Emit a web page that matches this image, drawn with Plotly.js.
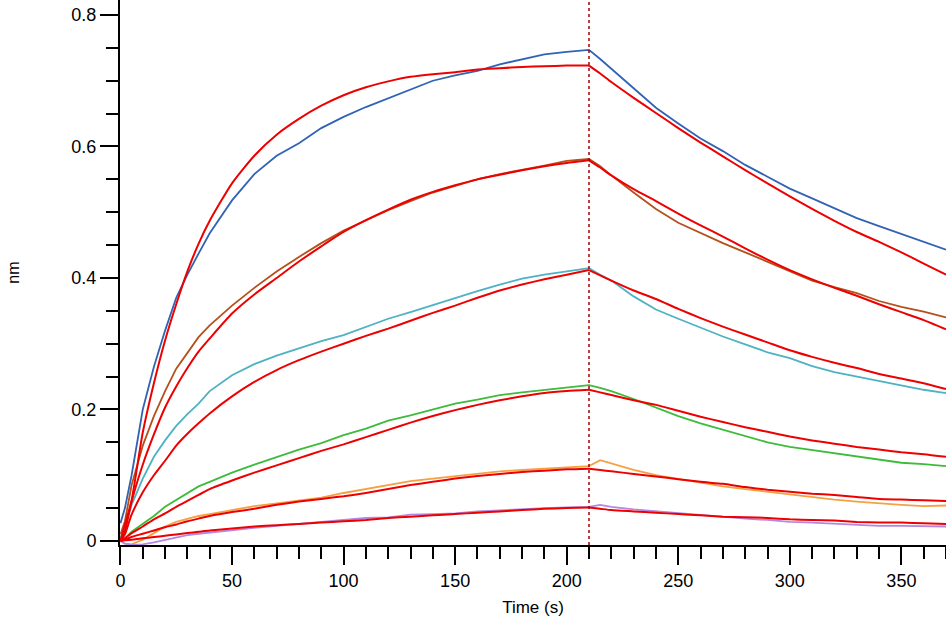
<!DOCTYPE html>
<html>
<head>
<meta charset="utf-8">
<script src="https://cdn.plot.ly/plotly-3.0.1.min.js"></script>
<style>html,body{margin:0;padding:0;background:#fff;}#chart{width:946px;height:620px;}</style>
</head>
<body>
<div id="chart"></div>
<script>
// Time points (s): association 0-210, dissociation 210-370
const time = [0, 2, 5, 10, 15, 20, 25, 30, 35, 40, 50, 60, 70, 80, 90, 100, 110, 120, 130, 140, 150, 160, 170, 180, 190, 200, 210,
  215, 220, 230, 240, 250, 260, 270, 280, 290, 300, 310, 320, 330, 340, 350, 360, 370];
const switchTime = 210;

// Measured responses (nm)
const blueData = [0.027, 0.05, 0.10, 0.20, 0.265, 0.32, 0.37, 0.405, 0.437, 0.468, 0.518, 0.558, 0.586, 0.605, 0.628, 0.645, 0.660, 0.673, 0.687, 0.700, 0.708, 0.715, 0.725, 0.733, 0.740, 0.744, 0.747,
  0.733, 0.718, 0.688, 0.659, 0.635, 0.612, 0.593, 0.572, 0.554, 0.536, 0.521, 0.506, 0.491, 0.479, 0.467, 0.455, 0.443];
const brownData = [0.01, 0.03, 0.085, 0.145, 0.19, 0.228, 0.262, 0.287, 0.31, 0.328, 0.358, 0.385, 0.41, 0.432, 0.453, 0.472, 0.488, 0.503, 0.517, 0.530, 0.540, 0.550, 0.558, 0.564, 0.571, 0.578, 0.581,
  0.570, 0.556, 0.530, 0.505, 0.484, 0.468, 0.453, 0.439, 0.425, 0.410, 0.396, 0.386, 0.377, 0.365, 0.356, 0.349, 0.340];
const cyanData = [0.005, 0.02, 0.055, 0.095, 0.128, 0.153, 0.175, 0.193, 0.209, 0.228, 0.252, 0.269, 0.282, 0.293, 0.304, 0.313, 0.325, 0.338, 0.348, 0.359, 0.369, 0.380, 0.390, 0.399, 0.405, 0.410, 0.415,
  0.405, 0.396, 0.372, 0.352, 0.338, 0.324, 0.311, 0.299, 0.287, 0.278, 0.266, 0.257, 0.250, 0.243, 0.237, 0.230, 0.225];
const greenData = [0, 0.004, 0.014, 0.026, 0.038, 0.052, 0.062, 0.072, 0.083, 0.09, 0.104, 0.116, 0.128, 0.139, 0.149, 0.161, 0.171, 0.183, 0.191, 0.200, 0.209, 0.215, 0.222, 0.226, 0.230, 0.234, 0.237,
  0.233, 0.228, 0.216, 0.203, 0.190, 0.179, 0.169, 0.159, 0.150, 0.143, 0.138, 0.133, 0.128, 0.123, 0.119, 0.117, 0.114];
const orangeData = [0, -0.004, -0.005, 0.002, 0.012, 0.022, 0.029, 0.034, 0.038, 0.041, 0.047, 0.053, 0.057, 0.062, 0.066, 0.073, 0.079, 0.084, 0.091, 0.095, 0.099, 0.103, 0.106, 0.108, 0.110, 0.112, 0.114,
  0.123, 0.118, 0.108, 0.100, 0.094, 0.088, 0.083, 0.079, 0.075, 0.070, 0.067, 0.063, 0.060, 0.057, 0.055, 0.053, 0.054];
const purpleData = [0, -0.004, -0.006, -0.005, -0.002, 0.002, 0.005, 0.009, 0.011, 0.013, 0.016, 0.020, 0.023, 0.026, 0.030, 0.032, 0.035, 0.036, 0.040, 0.041, 0.042, 0.045, 0.047, 0.049, 0.050, 0.051, 0.052,
  0.055, 0.052, 0.048, 0.045, 0.042, 0.039, 0.036, 0.034, 0.032, 0.029, 0.028, 0.026, 0.024, 0.023, 0.023, 0.022, 0.022];

// Fitted curves (nm)
const fit1 = [0, 0.025, 0.062, 0.165, 0.24, 0.305, 0.36, 0.41, 0.452, 0.487, 0.544, 0.586, 0.618, 0.642, 0.662, 0.678, 0.690, 0.699, 0.706, 0.710, 0.713, 0.717, 0.719, 0.721, 0.722, 0.723, 0.723,
  0.711, 0.698, 0.674, 0.651, 0.628, 0.606, 0.585, 0.564, 0.544, 0.524, 0.505, 0.487, 0.470, 0.455, 0.439, 0.422, 0.405];
const fit2 = [0, 0.015, 0.06, 0.116, 0.162, 0.203, 0.235, 0.263, 0.288, 0.308, 0.346, 0.375, 0.400, 0.425, 0.448, 0.470, 0.488, 0.504, 0.519, 0.531, 0.541, 0.550, 0.557, 0.564, 0.570, 0.575, 0.579,
  0.568, 0.556, 0.535, 0.517, 0.498, 0.480, 0.463, 0.445, 0.428, 0.412, 0.398, 0.385, 0.373, 0.360, 0.348, 0.336, 0.322];
const fit3 = [0, 0.01, 0.04, 0.074, 0.10, 0.122, 0.145, 0.163, 0.179, 0.194, 0.22, 0.242, 0.260, 0.275, 0.288, 0.300, 0.312, 0.323, 0.335, 0.347, 0.358, 0.370, 0.381, 0.390, 0.398, 0.405, 0.412,
  0.404, 0.396, 0.381, 0.368, 0.353, 0.339, 0.326, 0.314, 0.302, 0.290, 0.280, 0.271, 0.263, 0.254, 0.247, 0.240, 0.231];
const fit4 = [0, 0.004, 0.012, 0.022, 0.033, 0.042, 0.052, 0.061, 0.07, 0.079, 0.092, 0.104, 0.115, 0.126, 0.137, 0.147, 0.158, 0.169, 0.180, 0.190, 0.199, 0.207, 0.214, 0.220, 0.225, 0.228, 0.230,
  0.226, 0.222, 0.214, 0.207, 0.198, 0.189, 0.181, 0.173, 0.166, 0.159, 0.153, 0.148, 0.143, 0.139, 0.135, 0.132, 0.128];
const fit5 = [0, 0.002, 0.006, 0.011, 0.016, 0.021, 0.025, 0.03, 0.034, 0.038, 0.044, 0.049, 0.055, 0.06, 0.064, 0.068, 0.073, 0.079, 0.085, 0.090, 0.095, 0.099, 0.102, 0.105, 0.107, 0.109, 0.110,
  0.108, 0.106, 0.102, 0.098, 0.094, 0.090, 0.087, 0.082, 0.078, 0.075, 0.072, 0.070, 0.067, 0.064, 0.063, 0.062, 0.061];
const fit6 = [0, 0.001, 0.002, 0.004, 0.006, 0.008, 0.010, 0.012, 0.014, 0.016, 0.019, 0.022, 0.024, 0.026, 0.028, 0.030, 0.032, 0.035, 0.037, 0.039, 0.041, 0.043, 0.045, 0.047, 0.049, 0.050, 0.051,
  0.049, 0.047, 0.045, 0.043, 0.041, 0.039, 0.037, 0.036, 0.035, 0.033, 0.032, 0.031, 0.029, 0.028, 0.028, 0.027, 0.026];

const dataSeries = [blueData, brownData, cyanData, greenData, orangeData, purpleData];
const dataColors = ['#3163b4', '#b4501c', '#4eb2c2', '#3dbb3a', '#f5a142', '#b487e2'];
const fitSeries = [fit1, fit2, fit3, fit4, fit5, fit6];

const traces = [];
dataSeries.forEach((ys, i) => traces.push({
  x: time, y: ys, type: 'scatter', mode: 'lines',
  line: {color: dataColors[i], width: 1.8}, hoverinfo: 'skip'
}));
// fits: smooth curves, split into association and dissociation phases
const assocIdx = time.map((t, i) => i).filter(i => time[i] <= switchTime);
const dissocIdx = time.map((t, i) => i).filter(i => time[i] >= switchTime);
fitSeries.forEach(ys => {
  [assocIdx, dissocIdx].forEach(idx => traces.push({
    x: idx.map(i => time[i]), y: idx.map(i => ys[i]), type: 'scatter', mode: 'lines',
    line: {color: '#ee0000', width: 2, shape: 'spline', smoothing: 0.6}, hoverinfo: 'skip'
  }));
});

const fontFam = 'Arial, "Liberation Sans", sans-serif';
const layout = {
  width: 946, height: 620,
  margin: {l: 120, r: 0, t: 0, b: 75},
  paper_bgcolor: '#ffffff', plot_bgcolor: '#ffffff',
  showlegend: false,
  font: {family: fontFam, color: '#000', size: 18},
  xaxis: {
    range: [-0.2, 370], showgrid: false, zeroline: false,
    showline: true, linecolor: '#000', linewidth: 2,
    ticks: 'outside', ticklen: 18, tickwidth: 2, tickcolor: '#000',
    tick0: 0, dtick: 50,
    minor: {dtick: 10, ticks: 'outside', ticklen: 12, tickwidth: 2, tickcolor: '#000', showgrid: false},
    tickfont: {size: 18, family: fontFam},
    title: {text: 'Time (s)', font: {size: 17, family: fontFam}, standoff: 12}
  },
  yaxis: {
    range: [-0.0061, 0.8228], showgrid: false, zeroline: false,
    showline: true, linecolor: '#000', linewidth: 2,
    ticks: 'outside', ticklen: 18, tickwidth: 2, tickcolor: '#000',
    tick0: 0, dtick: 0.2,
    minor: {dtick: 0.05, ticks: 'outside', ticklen: 12, tickwidth: 2, tickcolor: '#000', showgrid: false},
    tickfont: {size: 18, family: fontFam},
    title: {text: 'nm', font: {size: 16, family: fontFam}, standoff: 48}
  },
  shapes: [{
    type: 'line', xref: 'x', yref: 'paper',
    x0: switchTime, x1: switchTime, y0: 0, y1: 1,
    line: {color: '#a00000', width: 1.5, dash: 'dot'}
  }]
};

Plotly.newPlot('chart', traces, layout, {displayModeBar: false, staticPlot: true});
</script>
</body>
</html>
